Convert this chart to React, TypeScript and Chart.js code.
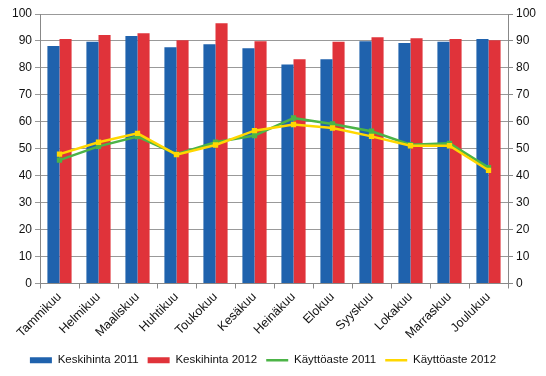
import React, { useEffect, useRef } from "react";
import { Chart, registerables } from "chart.js";

Chart.register(...registerables);

const categories = [
  "Tammikuu", "Helmikuu", "Maaliskuu", "Huhtikuu", "Toukokuu", "Kesäkuu",
  "Heinäkuu", "Elokuu", "Syyskuu", "Lokakuu", "Marraskuu", "Joulukuu",
];
const keskihinta2011 = [88.1, 89.7, 91.8, 87.7, 88.8, 87.3, 81.3, 83.2, 89.9, 89.2, 89.7, 90.7];
const keskihinta2012 = [90.7, 92.2, 92.9, 90.3, 96.6, 89.9, 83.2, 89.7, 91.4, 91.0, 90.7, 90.3];
const kayttoaste2011 = [45.8, 50.9, 54.5, 48.0, 52.4, 54.9, 61.4, 59.2, 56.5, 51.5, 52.0, 43.0];
const kayttoaste2012 = [48.0, 52.4, 55.7, 47.8, 51.4, 56.7, 59.0, 57.7, 54.6, 51.1, 51.1, 42.0];
const yTicks = [0, 10, 20, 30, 40, 50, 60, 70, 80, 90, 100];

const FONT = "'Liberation Sans', Arial, sans-serif";

const legendShift = {
  id: "legendShift",
  afterLayout(chart: any) {
    if (chart.legend) {
      chart.legend.left -= 10;
      chart.legend.right -= 10;
    }
  },
};

export default function App() {
  const ref = useRef<HTMLCanvasElement | null>(null);

  useEffect(() => {
    if (!ref.current) return;
    const font = { family: FONT, size: 12 };
    const chart = new Chart(ref.current, {
      type: "bar",
      plugins: [legendShift],
      data: {
        labels: categories,
        datasets: [
          {
            type: "bar",
            label: "Keskihinta 2011",
            data: keskihinta2011,
            backgroundColor: "#1f62ad",
            borderWidth: 0,
            categoryPercentage: 0.62,
            barPercentage: 1,
            order: 3,
            yAxisID: "y",
          },
          {
            type: "bar",
            label: "Keskihinta 2012",
            data: keskihinta2012,
            backgroundColor: "#e0333a",
            borderWidth: 0,
            categoryPercentage: 0.62,
            barPercentage: 1,
            order: 3,
            yAxisID: "y",
          },
          {
            type: "line",
            label: "Käyttöaste 2011",
            data: kayttoaste2011,
            borderColor: "#4cb447",
            backgroundColor: "#4cb447",
            borderWidth: 2.5,
            pointStyle: "rect",
            pointRadius: 2,
            tension: 0,
            order: 2,
            yAxisID: "y",
          },
          {
            type: "line",
            label: "Käyttöaste 2012",
            data: kayttoaste2012,
            borderColor: "#ffd700",
            backgroundColor: "#ffd700",
            borderWidth: 2.5,
            pointStyle: "rect",
            pointRadius: 2,
            tension: 0,
            order: 1,
            yAxisID: "y",
          },
        ],
      },
      options: {
        animation: false,
        responsive: false,
        layout: { padding: { top: 14, bottom: 0, left: 0, right: 0 } },
        plugins: {
          tooltip: { enabled: false },
          legend: {
            position: "bottom",
            labels: {
              font: { family: FONT, size: 11.5 },
              color: "#111",
              usePointStyle: true,
              pointStyleWidth: 22,
              boxHeight: 6,
              padding: 9,
              sort: (a: any, b: any) => a.datasetIndex - b.datasetIndex,
              generateLabels: (chart: any) => {
                const items = Chart.defaults.plugins.legend.labels.generateLabels(chart);
                return items.map((it: any) => {
                  const ds = chart.data.datasets[it.datasetIndex];
                  if (ds.type === "line") {
                    return { ...it, pointStyle: "line", lineWidth: 2.5, strokeStyle: ds.borderColor };
                  }
                  return { ...it, pointStyle: "rect", lineWidth: 0 };
                });
              },
            },
          },
        },
        scales: {
          x: {
            offset: true,
            grid: {
              display: true,
              offset: true,
              drawOnChartArea: false,
              drawTicks: true,
              tickLength: 5,
              color: "#888",
            },
            border: { color: "#888", width: 1 },
            ticks: { font: { family: FONT, size: 12.5 }, color: "#111", maxRotation: 45, minRotation: 45, autoSkip: false, padding: 1 },
            afterFit: (s: any) => { s.height = 62; },
          },
          y: {
            position: "left",
            min: 0,
            max: 100,
            afterBuildTicks: (s: any) => { s.ticks = yTicks.map((v) => ({ value: v })); },
            grid: { color: "#999", tickLength: 5, drawTicks: true },
            border: { color: "#888", width: 1 },
            ticks: { font, color: "#111", padding: 3 },
            afterFit: (s: any) => { s.width = 40; },
          },
          y2: {
            position: "right",
            min: 0,
            max: 100,
            afterBuildTicks: (s: any) => { s.ticks = yTicks.map((v) => ({ value: v })); },
            grid: { drawOnChartArea: false, tickLength: 5, drawTicks: true, color: "#888" },
            border: { color: "#888", width: 1 },
            ticks: { font, color: "#111", padding: 3 },
            afterFit: (s: any) => { s.width = 38; },
          },
        },
      },
    } as any);
    return () => chart.destroy();
  }, []);

  return (
    <div style={{ position: "absolute", left: 0, top: 0, width: 546, height: 376, background: "#fff" }}>
      <canvas ref={ref} width={546} height={376} style={{ width: 546, height: 376 }} />
    </div>
  );
}
